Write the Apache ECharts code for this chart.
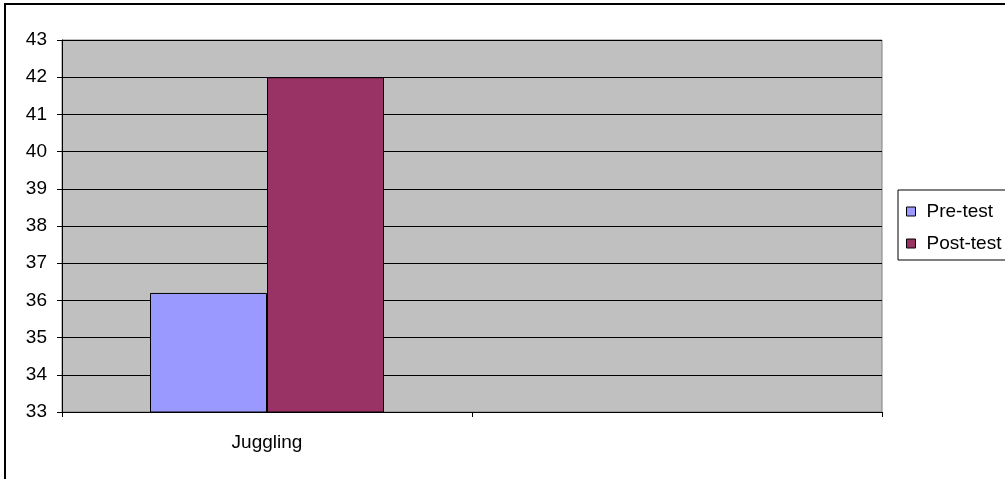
<!DOCTYPE html>
<html>
<head>
<meta charset="utf-8">
<script src="https://cdn.jsdelivr.net/npm/echarts@6/dist/echarts.min.js"></script>
<style>
html,body{margin:0;padding:0;background:#fff;}
#chart{width:1005px;height:479px;}
</style>
</head>
<body>
<div id="chart"></div>
<script>
var categories = ['Juggling', ''];
var seriesNames = ['Pre-test', 'Post-test'];
var preTest = [36.2, null];
var postTest = [42, null];
var seriesColors = ['#9999FF', '#993366'];

var chart = echarts.init(document.getElementById('chart'));
var font = 'Liberation Sans, Arial, sans-serif';
chart.setOption({
  animation: false,
  backgroundColor: '#fff',
  graphic: [
    {type: 'rect', shape: {x: 5, y: 4, width: 1020, height: 500}, style: {fill: 'none', stroke: '#000', lineWidth: 2}, z: 100}
  ],
  grid: {left: 62, top: 40, right: 123, bottom: 67, show: true, backgroundColor: '#C0C0C0', borderColor: '#808080', borderWidth: 1},
  legend: {
    orient: 'vertical',
    left: 898, top: 190,
    width: 120,
    padding: [12, 30, 7, 8],
    itemGap: 13,
    itemWidth: 9, itemHeight: 9,
    backgroundColor: '#fff', borderColor: '#000', borderWidth: 1,
    textStyle: {fontFamily: font, fontSize: 19, color: '#000', padding: [0, 0, 0, 6]},
    itemStyle: {borderColor: '#000', borderWidth: 1},
    data: seriesNames.map(function(n){return {name: n, icon: 'rect'};})
  },
  xAxis: {
    type: 'category', data: categories,
    boundaryGap: true,
    axisLine: {show: true, lineStyle: {color: '#000', width: 1}},
    axisTick: {show: true, length: 5, lineStyle: {color: '#000'}},
    axisLabel: {fontFamily: font, fontSize: 19, color: '#000', margin: 21}
  },
  yAxis: {
    type: 'value', min: 33, max: 43, interval: 1,
    axisLine: {show: true, lineStyle: {color: '#000', width: 1}},
    axisTick: {show: true, length: 5, lineStyle: {color: '#000'}},
    axisLabel: {fontFamily: font, fontSize: 19, color: '#000', margin: 15},
    splitLine: {show: true, lineStyle: {color: '#000', width: 1}}
  },
  series: [
    {name: seriesNames[0], type: 'bar', data: preTest, barWidth: 117, barGap: '0%',
     itemStyle: {color: seriesColors[0], borderColor: '#000', borderWidth: 1}},
    {name: seriesNames[1], type: 'bar', data: postTest, barWidth: 117, barGap: '0%',
     itemStyle: {color: seriesColors[1], borderColor: '#000', borderWidth: 1}}
  ]
});
</script>
</body>
</html>
